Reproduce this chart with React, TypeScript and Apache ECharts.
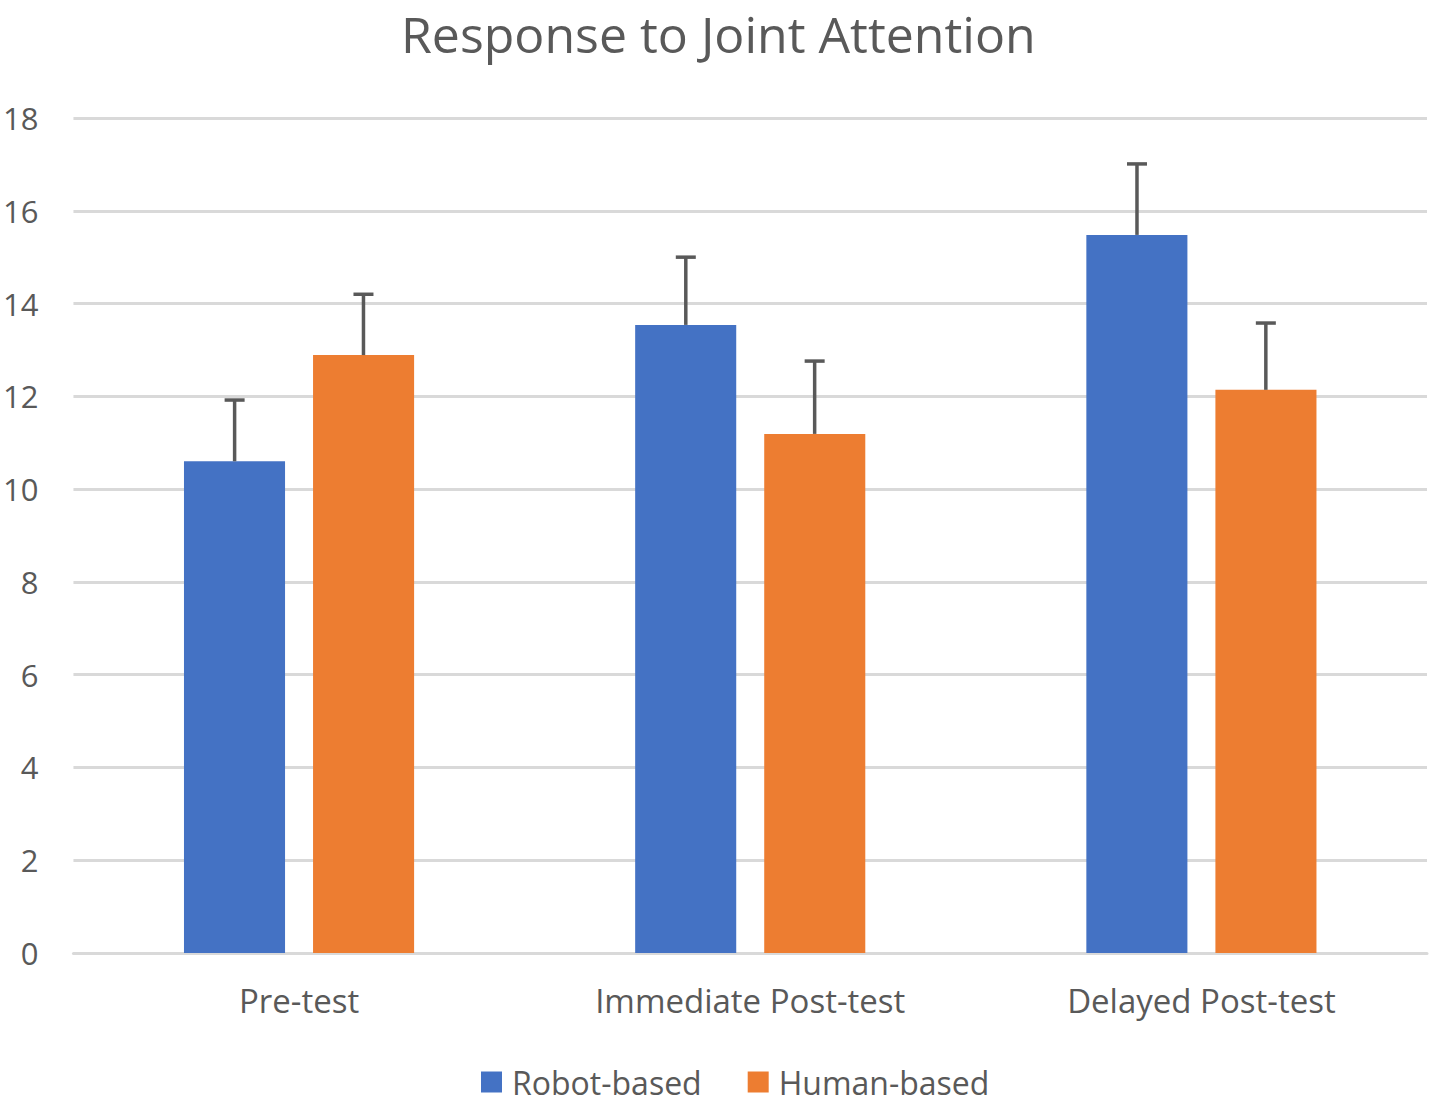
import React, { useEffect, useRef } from "react";
import * as echarts from "echarts";

const categories = ["Pre-test", "Immediate Post-test", "Delayed Post-test"];
const robotValues = [10.6, 13.54, 15.48];
const humanValues = [12.89, 11.19, 12.14];
const robotErrTop = [11.92, 15.0, 17.01];
const humanErrTop = [14.2, 12.76, 13.58];
const yTicks = { min: 0, max: 18, interval: 2 };

const TEXT = "#595959";
const FONT = "'Open Sans', sans-serif";

function errSeries(name: string, vals: number[], tops: number[], offset: number) {
  return {
    name,
    type: "custom",
    z: 10,
    encode: { x: 0, y: [1, 2] },
    data: vals.map((v, i) => [i, v, tops[i]]),
    renderItem: (params: any, api: any) => {
      const ci = api.value(0);
      const lo = api.value(1);
      const hi = api.value(2);
      const band = api.size([1, 0])[0];
      const b = api.coord([ci, lo]);
      const t = api.coord([ci, hi]);
      const x = b[0] + offset * band;
      const style = { stroke: "#595959", lineWidth: 3.5 };
      return {
        type: "group",
        children: [
          { type: "line", shape: { x1: x, y1: b[1], x2: x, y2: t[1] }, style },
          { type: "line", shape: { x1: x - 10, y1: t[1], x2: x + 10, y2: t[1] }, style },
        ],
      };
    },
  };
}

export default function App() {
  const ref = useRef<HTMLDivElement>(null);
  useEffect(() => {
    const chart = echarts.init(ref.current!, null, { renderer: "svg" });
    chart.setOption({
      animation: false,
      backgroundColor: "#ffffff",
      textStyle: { fontFamily: FONT },
      title: {
        text: "Response to Joint Attention",
        left: 396,
        top: 4,
        textStyle: { fontFamily: FONT, fontSize: 50, fontWeight: "normal", color: TEXT },
      },
      legend: {
        data: ["Robot-based", "Human-based"],
        bottom: 5,
        left: 476,
        itemWidth: 21,
        itemHeight: 21,
        itemGap: 46,
        icon: "rect",
        textStyle: { fontFamily: FONT, fontSize: 32, color: TEXT, padding: [0, 0, 0, 5] },
      },
      grid: { left: 72, right: 2, top: 118, bottom: 155 },
      xAxis: {
        type: "category",
        data: categories,
        axisTick: { show: false },
        axisLine: { lineStyle: { color: "#d9d9d9", width: 3 } },
        axisLabel: { fontFamily: FONT, fontSize: 33, color: TEXT, margin: 31 },
      },
      yAxis: {
        type: "value",
        min: yTicks.min,
        max: yTicks.max,
        interval: yTicks.interval,
        axisLine: { show: false },
        axisTick: { show: false },
        splitLine: { lineStyle: { color: "#d9d9d9", width: 3 } },
        axisLabel: { fontFamily: FONT, fontSize: 31, color: TEXT, margin: 35 },
      },
      series: [
        {
          name: "Robot-based",
          type: "bar",
          data: robotValues,
          barWidth: "22.4%",
          barGap: "27.7%",
          itemStyle: { color: "#4472C4" },
        },
        {
          name: "Human-based",
          type: "bar",
          data: humanValues,
          barWidth: "22.4%",
          barGap: "27.7%",
          itemStyle: { color: "#ED7D31" },
        },
        errSeries("Robot err", robotValues, robotErrTop, -0.1428),
        errSeries("Human err", humanValues, humanErrTop, 0.1428),
      ],
    });
    return () => chart.dispose();
  }, []);
  return (
    <div
      ref={ref}
      style={{ position: "absolute", left: 0, top: 0, width: 1429, height: 1108 }}
    />
  );
}
